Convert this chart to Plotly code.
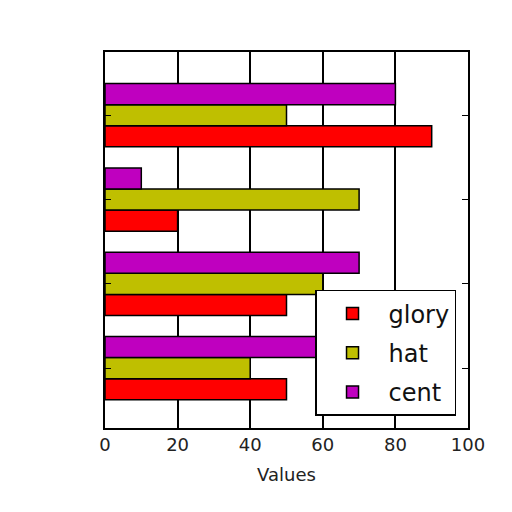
import plotly.graph_objects as go

groups = ["g1", "g2", "g3", "g4"]
glory = [50, 50, 20, 90]
hat = [40, 60, 70, 50]
cent = [60, 70, 10, 80]
x_ticks = [0, 20, 40, 60, 80, 100]

fig = go.Figure()
for name, vals, color in [("glory", glory, "#ff0000"),
                          ("hat", hat, "#bfbf00"),
                          ("cent", cent, "#bf00bf")]:
    fig.add_trace(go.Bar(
        y=list(range(len(groups))),
        x=vals,
        orientation='h',
        name=name,
        legendgroup=name,
        marker=dict(color=color, line=dict(color='black', width=1.5)),
    ))

# page body has an 8px margin, so offsets are shifted accordingly
fig.update_layout(
    width=512, height=512,
    barmode='group', bargap=0.25, bargroupgap=0,
    paper_bgcolor='white', plot_bgcolor='white',
    margin=dict(l=97, r=52, t=44, b=92),
    font=dict(family='DejaVu Sans', size=18, color='#222222'),
    legend=dict(
        x=0.967, y=0.032, xanchor='right', yanchor='bottom',
        bgcolor='white', bordercolor='black', borderwidth=1.5,
        font=dict(size=24, color='#111111'),
        traceorder='grouped', tracegroupgap=5, itemwidth=62,
    ),
)
fig.update_xaxes(
    range=[0, 100], tickvals=x_ticks,
    showgrid=True, gridcolor='black', gridwidth=2,
    showline=True, linecolor='black', linewidth=1.5, mirror=True,
    zeroline=False, ticks='', layer='above traces',
    title=dict(text='Values', font=dict(size=18), standoff=14),
)
fig.update_yaxes(
    range=[-0.71, 3.75], tickvals=list(range(len(groups))),
    showticklabels=False, showgrid=False, zeroline=False,
    showline=True, linecolor='black', linewidth=1.5, mirror='ticks',
    ticks='inside', ticklen=6, tickcolor='black',
)

fig.write_html("out.html")
